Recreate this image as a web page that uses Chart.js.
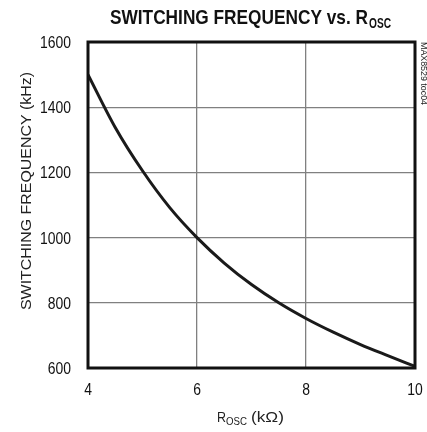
<!DOCTYPE html>
<html>
<head>
<meta charset="utf-8">
<script src="https://cdn.jsdelivr.net/npm/chart.js@4/dist/chart.umd.min.js"></script>
<style>
    html, body { margin: 0; padding: 0; background: #fff; }
    #wrap { width: 427px; height: 432px; }
</style>
</head>
<body>
<div id="wrap"><canvas id="freqChart" width="427" height="432"></canvas></div>
<script>
// R_OSC in kOhm, frequency in kHz
const rosc = [4, 4.5, 5, 5.5, 6, 6.5, 7, 7.5, 8, 8.5, 9, 9.5, 10];
const freq = [1500, 1338, 1205, 1092, 1000, 922, 856, 800, 752, 710, 672, 638, 605];
const xTicks = [4, 6, 8, 10];
const yTicks = [600, 800, 1000, 1200, 1400, 1600];

const FONT = '"Liberation Sans", Arial, sans-serif';

// draw text with a horizontal squeeze factor
function squeezeText(ctx, text, x, y, sx, font, align) {
    ctx.save();
    ctx.font = font;
    const w = ctx.measureText(text).width * sx;
    let dx = 0;
    if (align === 'center') dx = -w / 2;
    if (align === 'right') dx = -w;
    ctx.translate(x + dx, y);
    ctx.scale(sx, 1);
    ctx.textAlign = 'left';
    ctx.fillText(text, 0, 0);
    ctx.restore();
}

// draw text squeezed/stretched to a target width
function fitText(ctx, text, x, y, width, font) {
    ctx.save();
    ctx.font = font;
    const w = ctx.measureText(text).width;
    ctx.translate(x, y);
    ctx.scale(width / w, 1);
    ctx.textAlign = 'left';
    ctx.fillText(text, 0, 0);
    ctx.restore();
}

const decorations = {
    id: 'decorations',
    afterDraw(chart) {
        const ctx = chart.ctx;
        const a = chart.chartArea;
        const xs = chart.scales.x;
        const ys = chart.scales.y;

        ctx.save();
        // frame
        ctx.strokeStyle = '#111';
        ctx.lineWidth = 3;
        ctx.strokeRect(a.left, a.top, a.right - a.left, a.bottom - a.top);

        ctx.textBaseline = 'alphabetic';

        // tick labels
        ctx.fillStyle = '#111';
        xTicks.forEach((v) => {
            squeezeText(ctx, String(v), xs.getPixelForValue(v), 395, 0.87, '16px ' + FONT, 'center');
        });
        yTicks.forEach((v) => {
            squeezeText(ctx, String(v), a.left - 17, ys.getPixelForValue(v) + 6, 0.87, '16px ' + FONT, 'right');
        });

        // title
        fitText(ctx, 'SWITCHING FREQUENCY vs. R', 110, 24, 258, 'bold 21px ' + FONT);
        fitText(ctx, 'OSC', 369, 28, 22, 'bold 14px ' + FONT);

        // x axis title
        ctx.fillStyle = '#222';
        fitText(ctx, 'R', 217, 422, 9, '15px ' + FONT);
        fitText(ctx, 'OSC', 226, 425, 21, '11px ' + FONT);
        fitText(ctx, '(k\u03A9)', 251, 422, 33, '15px ' + FONT);

        // y axis title
        ctx.save();
        ctx.translate(31, 310);
        ctx.rotate(-Math.PI / 2);
        fitText(ctx, 'SWITCHING FREQUENCY (kHz)', 0, 0, 238, '15px ' + FONT);
        ctx.restore();

        // side tag
        ctx.save();
        ctx.translate(421, 42);
        ctx.rotate(Math.PI / 2);
        fitText(ctx, 'MAX8529 toc04', 0, 0, 63, '9px ' + FONT);
        ctx.restore();

        ctx.restore();
    },
};

new Chart(document.getElementById('freqChart'), {
    type: 'line',
    data: {
        datasets: [
            {
                data: rosc.map((r, i) => ({ x: r, y: freq[i] })),
                borderColor: '#1a1a1a',
                borderWidth: 3,
                pointRadius: 0,
                cubicInterpolationMode: 'monotone',
                fill: false,
            },
        ],
    },
    options: {
        responsive: false,
        animation: false,
        layout: {
            padding: { top: 42, right: 12, bottom: 0, left: 0 },
        },
        plugins: {
            legend: { display: false },
            tooltip: { enabled: false },
        },
        scales: {
            x: {
                type: 'linear',
                min: 4,
                max: 10,
                afterBuildTicks: (s) => { s.ticks = xTicks.map((v) => ({ value: v })); },
                afterFit: (s) => { s.height = 64; },
                grid: { color: '#808080', lineWidth: 1.3, drawTicks: false },
                border: { display: false },
                ticks: { display: false },
            },
            y: {
                min: 600,
                max: 1600,
                afterBuildTicks: (s) => { s.ticks = yTicks.map((v) => ({ value: v })); },
                afterFit: (s) => { s.width = 88; },
                grid: { color: '#808080', lineWidth: 1.3, drawTicks: false },
                border: { display: false },
                ticks: { display: false },
            },
        },
    },
    plugins: [decorations],
});
</script>
</body>
</html>
